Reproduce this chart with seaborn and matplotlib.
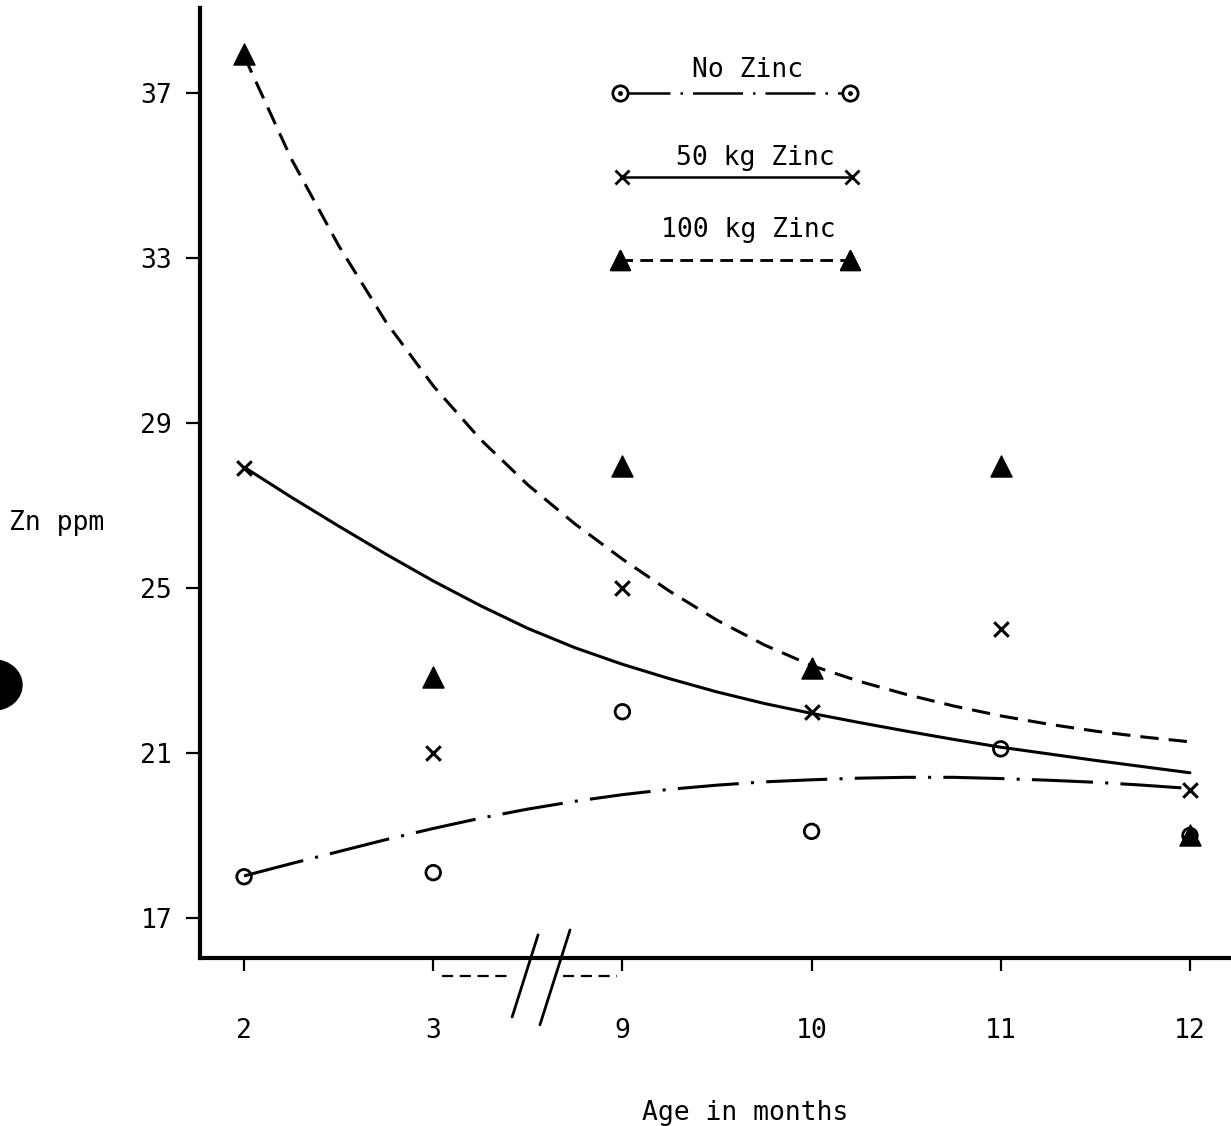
import matplotlib
matplotlib.use("Agg")
import matplotlib.pyplot as plt
from matplotlib.lines import Line2D
from matplotlib.patches import Ellipse
from matplotlib.legend_handler import HandlerTuple
import seaborn as sns

# age classes (categorical, axis is broken between 3 and 9)
ages = ["2", "3", "9", "10", "11", "12"]
age_pos = [0, 1, 2, 3, 4, 5]

# observed Zn ppm
no_zinc = [18.0, 18.1, 22.0, 19.1, 21.1, 19.0]
zinc_50 = [27.9, 21.0, 25.0, 22.0, 24.0, 20.1]
zinc_100 = [37.95, 22.85, 27.95, 23.05, 27.95, 19.0]

# fitted curves (every quarter step of the age axis)
curve_pos = [0, 0.25, 0.5, 0.75, 1, 1.25, 1.5, 1.75, 2, 2.25, 2.5,
             2.75, 3, 3.25, 3.5, 3.75, 4, 4.25, 4.5, 4.75, 5.0]
fit_no = [18.02, 18.32, 18.61, 18.9, 19.17, 19.42, 19.64, 19.83, 19.99, 20.12, 20.22,
          20.3, 20.35, 20.39, 20.41, 20.41, 20.38, 20.34, 20.29, 20.22, 20.14]
fit_50 = [27.93, 27.2, 26.5, 25.82, 25.17, 24.57, 24.02, 23.55, 23.15, 22.8, 22.48,
          22.2, 21.96, 21.74, 21.53, 21.33, 21.14, 20.98, 20.82, 20.67, 20.52]
fit_100 = [37.9, 35.4, 33.3, 31.45, 29.9, 28.6, 27.5, 26.55, 25.7, 24.92, 24.22,
           23.62, 23.12, 22.74, 22.42, 22.14, 21.9, 21.7, 21.53, 21.39, 21.27]

y_ticks = [17, 21, 25, 29, 33, 37]

sns.set_style("ticks")
plt.rcParams["font.family"] = ["DejaVu Sans Mono", "DejaVu Sans"]
plt.rcParams.update({"font.size": 19, "text.color": "k", "axes.labelcolor": "k",
                     "xtick.color": "k", "ytick.color": "k", "axes.edgecolor": "k"})

fig = plt.figure(figsize=(12.31, 11.26), dpi=100)
ax = fig.add_axes([200 / 1231, 1 - 958 / 1126, 1031 / 1231, 950 / 1126])

ls_no = (0, (20, 4, 1, 4))
ls_100 = (0, (6, 3.3))

sns.lineplot(x=curve_pos, y=fit_no, ax=ax, color="k", lw=2.2, linestyle=ls_no, sort=False)
sns.lineplot(x=curve_pos, y=fit_50, ax=ax, color="k", lw=2.2, sort=False)
sns.lineplot(x=curve_pos, y=fit_100, ax=ax, color="k", lw=2.2, linestyle=ls_100, sort=False)

sns.scatterplot(x=age_pos, y=no_zinc, ax=ax, marker="o", s=110, facecolor="none",
                edgecolor="k", linewidth=2, zorder=3)
sns.scatterplot(x=age_pos, y=zinc_50, ax=ax, marker="x", s=110, color="k",
                linewidth=2.2, zorder=3)
sns.scatterplot(x=age_pos, y=zinc_100, ax=ax, marker="^", s=230, color="k",
                edgecolor="k", linewidth=1, zorder=4)

ax.set_xlim(-0.233, 5.217)
ax.set_ylim(16.03, 39.06)
ax.set_xticks(age_pos)
ax.set_xticklabels(ages)
ax.set_yticks(y_ticks)
ax.tick_params(axis="y", length=10, width=1.6, pad=10, direction="out")
ax.tick_params(axis="x", length=9, width=1.6, pad=34, direction="out")
sns.despine(ax=ax)
ax.spines["left"].set_linewidth(3)
ax.spines["bottom"].set_linewidth(3)

ax.set_xlabel("Age in months")
ax.xaxis.set_label_coords((745 - 200) / 1031, -(1100 - 958) / 950)
ax.set_ylabel("Zn ppm", rotation=0, va="center", ha="center")
ax.yaxis.set_label_coords((57 - 200) / 1031, (958 - 523) / 950)

# axis break marks below the x axis
for xs, ys in [([1.417, 1.554], [14.6, 16.59]), ([1.564, 1.723], [14.41, 16.71])]:
    ax.plot(xs, ys, color="k", lw=2, clip_on=False)
for xs in ([1.046, 1.406], [1.686, 1.971]):
    ax.plot(xs, [15.59, 15.59], color="k", lw=1.6, ls=(0, (5, 3)), clip_on=False)

# legend: three separate keys, each label written above its sample line
circ = Line2D([], [], color="k", lw=1.8, ls=ls_no, marker="o", ms=11, mfc="white", mew=2)
dot = Line2D([], [], color="k", ls="none", marker=".", ms=5)
cross = Line2D([], [], color="k", lw=1.8, marker="x", ms=10, mew=2)
tri = Line2D([], [], color="k", lw=1.8, ls=(0, (5, 3)), marker="^", ms=15)

keys = [((circ, dot), "No Zinc", 735, 108, 748, 70),
        (cross, "50 kg Zinc", 737, 192, 755, 158),
        (tri, "100 kg Zinc", 735, 275, 748, 230)]
for handle, label, bx, by, tx, ty in keys:
    leg = ax.legend([handle], [""], numpoints=2, frameon=False,
                    handlelength=9.3, handletextpad=0, borderpad=0, borderaxespad=0,
                    loc="lower center", bbox_to_anchor=(bx / 1231, 1 - by / 1126),
                    bbox_transform=fig.transFigure,
                    handler_map={tuple: HandlerTuple(ndivide=1)})
    ax.add_artist(leg)
    fig.text(tx / 1231, 1 - ty / 1126, label, ha="center", va="center")

# hole punch at the left margin of the scan
fig.patches.append(Ellipse((-6 / 1231, 1 - 685 / 1126), 56 / 1231, 50 / 1126,
                           transform=fig.transFigure, color="k", figure=fig))

fig.savefig("out.png", dpi=100)
